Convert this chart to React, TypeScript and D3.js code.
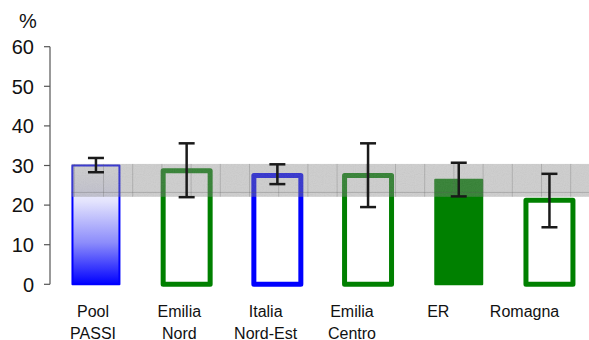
import React from "react";
import * as d3 from "d3";

const categories = ["Pool PASSI", "Emilia Nord", "Italia Nord-Est", "Emilia Centro", "ER", "Romagna"];
const labelLines = [["Pool", "PASSI"], ["Emilia", "Nord"], ["Italia", "Nord-Est"], ["Emilia", "Centro"], ["ER"], ["Romagna"]];
const values = [30.0, 28.7, 27.5, 27.5, 26.4, 21.2];
const ciLow = [28.3, 22.0, 25.3, 19.5, 22.2, 14.4];
const ciHigh = [31.9, 35.6, 30.3, 35.6, 30.7, 27.9];
const barKind = ["gradient", "greenOutline", "blueOutline", "greenOutline", "greenFill", "greenOutline"];
const refBand = [22.1, 30.4]; // ER confidence band
const refLine = 23.2;
const yTicks = [0, 10, 20, 30, 40, 50, 60];

const W = 589;
const H = 340;
const font = "'Liberation Sans', Arial, sans-serif";

const App = () => {
  const y = d3.scaleLinear().domain([0, 60]).range([284.3, 46.7]);
  const x = d3
    .scaleBand<string>()
    .domain(categories)
    .range([50.6, 594.8])
    .paddingInner(0.482)
    .paddingOuter(0.241);
  const xLab = d3.scaleBand<string>().domain(categories).range([49.9, 567.7]);
  const bw = x.bandwidth();
  const bandX0 = (x(categories[0]) as number) - 1;

  const style = (k: string) => {
    if (k === "gradient") return { fill: "url(#poolGrad)", stroke: "#0000ff", sw: 2 };
    if (k === "blueOutline") return { fill: "#ffffff", stroke: "#0000ff", sw: 5 };
    if (k === "greenFill") return { fill: "#008000", stroke: "#008000", sw: 2 };
    return { fill: "#ffffff", stroke: "#008000", sw: 5 };
  };

  const bandY = y(refBand[1]);
  const bandH = y(refBand[0]) - y(refBand[1]);

  return (
    <svg width={W} height={H} style={{ position: "absolute", left: 0, top: 0, background: "#fff" }}>
      <defs>
        <linearGradient id="poolGrad" x1="0" y1="0" x2="0" y2="1">
          <stop offset="0%" stopColor="#ffffff" />
          <stop offset="30%" stopColor="#e4e4fd" />
          <stop offset="65%" stopColor="#8c8cfb" />
          <stop offset="100%" stopColor="#0000ff" />
        </linearGradient>
        <pattern id="bandGrid" patternUnits="userSpaceOnUse" x={73.8} y={0} width={29.2} height={H}>
          <line x1={0.5} x2={0.5} y1={0} y2={H} stroke="#555" strokeOpacity={0.28} strokeWidth={1} />
        </pattern>
        <filter id="noise" x="0" y="0" width="100%" height="100%">
          <feTurbulence type="fractalNoise" baseFrequency="0.9" numOctaves={1} seed={3} result="n" />
          <feColorMatrix type="saturate" values="0" in="n" result="g" />
          <feComponentTransfer in="g" result="a">
            <feFuncA type="linear" slope="0" intercept="0.1" />
          </feComponentTransfer>
          <feComposite in="a" in2="SourceGraphic" operator="in" />
        </filter>
      </defs>

      {/* y axis */}
      <line x1={50} x2={50} y1={y(60)} y2={y(0)} stroke="#555" strokeWidth={1.2} />
      {yTicks.map(t => (
        <g key={t}>
          <line x1={44} x2={50} y1={y(t)} y2={y(t)} stroke="#555" strokeWidth={1.2} />
          <text x={34} y={y(t)} dy="0.36em" textAnchor="end" fontFamily={font} fontSize={20} fill="#111">
            {t}
          </text>
        </g>
      ))}
      <text x={28} y={28} textAnchor="middle" fontFamily={font} fontSize={20} fill="#111">
        %
      </text>

      {/* bars */}
      {categories.map((c, i) => {
        const s = style(barKind[i]);
        return (
          <rect
            key={c}
            x={x(c) as number}
            y={y(values[i])}
            width={bw}
            height={y(0) - y(values[i])}
            fill={s.fill}
            stroke={s.stroke}
            strokeWidth={s.sw}
            strokeLinejoin="round"
          />
        );
      })}

      {/* reference band */}
      <g>
        <rect x={bandX0} y={bandY} width={W - bandX0} height={bandH} fill="#7a7a7a" fillOpacity={0.37} />
        <rect x={bandX0} y={bandY} width={W - bandX0} height={bandH} fill="url(#bandGrid)" />
        <rect x={bandX0} y={bandY} width={W - bandX0} height={bandH} fill="#000" filter="url(#noise)" />
        <line x1={bandX0} x2={W} y1={y(refLine)} y2={y(refLine)} stroke="#555" strokeOpacity={0.28} />
      </g>

      {/* error bars */}
      {categories.map((c, i) => {
        const cx = (x(c) as number) + bw / 2;
        return (
          <g key={c} stroke="#1a1a1a" strokeWidth={2.5}>
            <line x1={cx} x2={cx} y1={y(ciHigh[i])} y2={y(ciLow[i])} />
            <line x1={cx - 8} x2={cx + 8} y1={y(ciHigh[i])} y2={y(ciHigh[i])} />
            <line x1={cx - 8} x2={cx + 8} y1={y(ciLow[i])} y2={y(ciLow[i])} />
          </g>
        );
      })}

      {/* category labels */}
      {categories.map((c, i) => {
        const cx = (xLab(c) as number) + xLab.bandwidth() / 2;
        return (
          <text key={c} x={cx} y={316.5} textAnchor="middle" fontFamily={font} fontSize={16} fill="#111">
            {labelLines[i].map((l, j) => (
              <tspan key={j} x={cx} dy={j === 0 ? 0 : 22}>
                {l}
              </tspan>
            ))}
          </text>
        );
      })}
    </svg>
  );
};

export default App;
